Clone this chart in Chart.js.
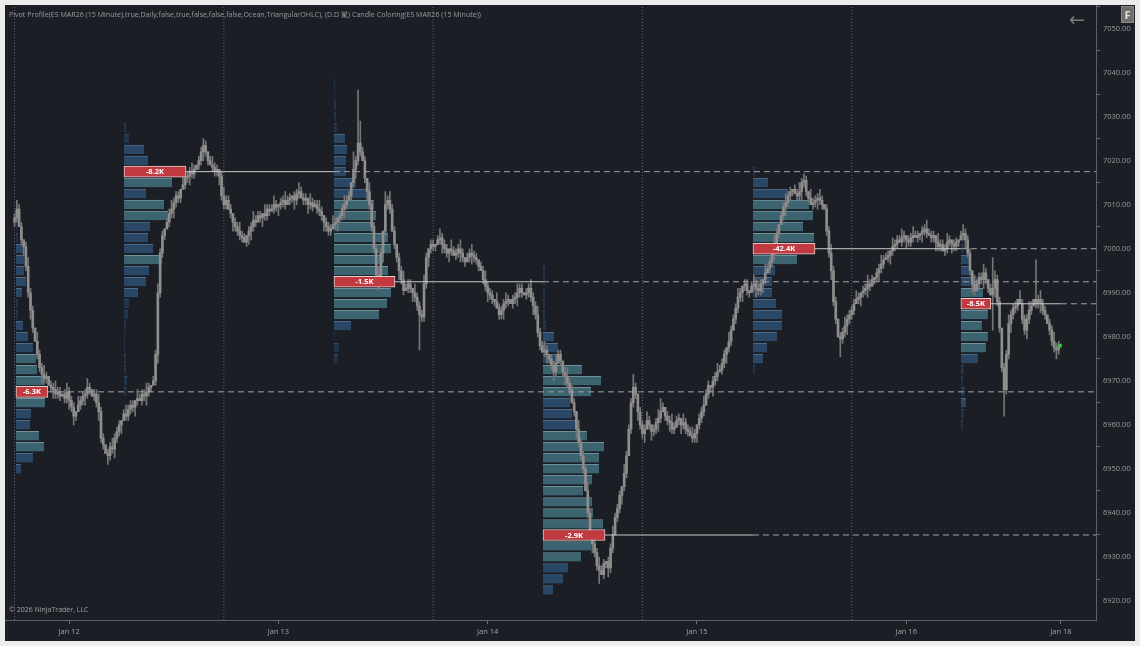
<!DOCTYPE html>
<html><head><meta charset="utf-8">
<script src="https://cdn.jsdelivr.net/npm/chart.js@4.4.1/dist/chart.umd.min.js"></script>
<style>
html,body{margin:0;padding:0;background:#ececec;width:1140px;height:646px;overflow:hidden;font-family:'Open Sans','DejaVu Sans',sans-serif;}
#panel{position:absolute;left:5px;top:5px;width:1130px;height:636px;background:#1b1e25;overflow:hidden;}
#cv{position:absolute;left:0;top:0;}
#hdr{position:absolute;left:4px;top:4px;font-size:7.1px;color:#9a9a9a;white-space:nowrap;}
#copy{position:absolute;left:4px;top:600px;font-size:7px;color:#a0a0a0;white-space:nowrap;}
#back{position:absolute;left:1064px;top:3px;font-size:19px;color:#7c7c7c;line-height:22px;}
#fbox{position:absolute;left:1116px;top:1px;width:11px;height:15px;background:#6d6d6d;border:1px solid #8a8a8a;color:#e0e0e0;font-size:11px;font-weight:bold;text-align:center;line-height:15px;}
</style></head>
<body>
<div id="panel">
<canvas id="cv" width="1130" height="636"></canvas>
<div id="hdr">Pivot Profile(ES MAR26 (15 Minute),true,Daily,false,true,false,false,false,Ocean,TriangularOHLC), (D.D 鬣) Candle Coloring(ES MAR26 (15 Minute))</div>
<div id="copy">© 2026 NinjaTrader, LLC</div>
<div id="back">←</div>
<div id="fbox">F</div>
</div>
<script>
// ---------------- data ----------------
const sessionStarts = [0, 92, 184, 276, 368];
const dateTickBars = [24, 116, 208, 300, 392, 460];
const dateTickLabels = ['Jan 12', 'Jan 13', 'Jan 14', 'Jan 15', 'Jan 16', 'Jan 18'];
const priceTicks = [6920, 6930, 6940, 6950, 6960, 6970, 6980, 6990, 7000, 7010, 7020, 7030, 7040, 7050];

const firstOpen = 7006;
const closesJan12 = [
7007,7009,7005,7002,7000.5,6996,6990,6986,6982,6979,
6976,6973,6971.5,6970.5,6971,6969,6968.5,6968,6967,6967.5,
6966.5,6967,6966,6967.5,6965.5,6964,6962,6963,6964.5,6965.5,
6966.5,6967,6968.5,6968,6966.5,6967,6965,6963,6957,6955.5,
6953.5,6953,6955,6954.5,6957,6958.5,6960,6961,6962.5,6962,
6963.5,6964.5,6964,6965.5,6966,6965.5,6967,6966.5,6967.5,6968.5,
6969,6970,6976,6990,6999,7003,7004.5,7006,7008,7009,
7010.5,7012,7011.5,7013.5,7014.5,7016,7016.5,7017.5,7017,7018,
7019,7020,7022,7023.5,7022,7020,7019,7018.5,7017.5,7018,
7016.5,7012];
const closesJan13 = [
7010,7011,7009,7008,7006,7005,7004,7003,7002.5,7001.5,
7003,7004,7005,7006.5,7006,7007.5,7007,7008,7007.5,7009,
7008.5,7009,7010,7009.5,7010,7010.5,7011,7010,7011,7011.5,
7012,7011,7012.5,7013,7011.5,7011,7011.5,7010,7010.5,7009.5,
7010,7009,7008.5,7007.5,7006,7005,7004,7004.5,7005.5,7006,
7007,7007.5,7009,7010,7011,7012,7015,7018,7020,7024,
7022,7020,7016,7013,7010,7005,7000,6994,6992.5,6999,
7004,7010,7011,7009,7004,7001,6998,6995,6993,6990.5,
6991,6992,6991,6990,6989,6987,6985,6984.5,6992,6998,
7000,7001];
const closesJan14 = [
7000.5,7001,7002,7002.5,7001,7000,6999,7000,6999.5,6998.5,
6999,7000,6999,6998,6997,6998,6999,6998.5,6998,6997.5,
6996,6995,6993,6991.5,6990,6989.5,6988.5,6988,6986.5,6985,
6986,6987.5,6988,6988.5,6987.5,6988.5,6989,6990,6991,6990,
6989.5,6990,6991,6989,6987,6985,6981,6978,6976.5,6977,
6976,6975,6973.5,6972,6974,6976,6974.5,6972,6971,6969.5,
6968,6965,6963,6959,6956,6953,6950,6945,6940,6936,
6933,6931,6928,6927,6926,6928.5,6929,6927.5,6932,6935,
6939,6941,6944,6946,6949,6953,6959,6965,6968.5,6967,
6963,6960];
const closesJan15 = [
6958,6959,6961,6960,6958.5,6959,6960.5,6961.5,6963,6964,
6962,6961,6960.5,6959,6959.5,6961,6961.5,6960,6960.5,6959,
6958.5,6957.5,6957,6958,6960,6961.5,6963,6964.5,6967,6969,
6968.5,6970,6971,6972,6972.5,6974,6976,6977.5,6979,6981.5,
6984,6986.5,6989,6990,6991.5,6992,6990.5,6990,6991.5,6992,
6991,6990.5,6992,6993,6994.5,6995.5,6997,6999.5,7001,7003.5,
7005.5,7007.5,7009.5,7010.5,7012,7013,7013.5,7012.5,7012,7013,
7015,7015.5,7013,7011.5,7010,7010.5,7011,7011.5,7011,7010,
7009,7004,6999,6995,6988,6984,6980,6979.5,6981,6982.5,
6984,6985];
const closesJan16 = [
6986,6987.5,6988.5,6989,6990,6990.5,6991,6992,6991.5,6993,
6993.5,6994.5,6995.5,6996.5,6997.5,6998,6998.5,6999.5,7000.5,7001,
7002,7001.5,7002.5,7003,7002,7001.5,7002.5,7003,7002.5,7003,
7003.5,7004,7004.5,7003.5,7003,7002.5,7003,7001.5,7000.5,7001,
6999.5,7000,7001.5,7002,7001,7000.5,7001.5,7002,7003,7003.5,
7002,6999,6995,6992,6990.5,6992,6993.5,6993,6994.5,6993,
6991,6989.5,6991,6993,6988,6982,6973,6968,6976,6983,
6985,6986.5,6987,6988.5,6987.5,6984,6981.5,6984,6986,6987,
6988.5,6987.5,6988.5,6987.5,6986,6985,6983,6981.5,6979,6977.5,
6977,6978];

const wickUp = [
1,2,1,1,0,1,2,1,1,0,2,1,1,2,1,0,1,1,2,1,1,0,1,2,1,1,1,0,2,1,1,1,2,1,0,1,1,2,1,1,0,1,1,2,1,1,
1,0,1,2,1,1,1,0,2,1,1,1,2,1,0,1,1,2,1,1,0,1,1,2,1,1,1,0,2,1,1,1,2,1,0,1,1,1.5,1,0,1,2,1,1,0,1,
2,1,1,1,0,1,1,2,1,1,0,1,1,2,1,1,1,0,2,1,1,1,2,1,0,1,1,2,1,1,0,1,1,2,1,1,1,0,2,1,1,1,2,1,0,1,
1,1,2,1,0,1,1,2,1,1,0,4,1,12,5,1,1,0,2,1,1,1,2,1,0,3,1,2,1,1,0,1,1,2,1,1,1,0,2,1,1,1,2,1,0,1,
1,0,1,2,1,1,1,0,2,1,1,1,2,1,0,1,1,2,1,1,0,1,1,2,1,1,1,0,2,1,1,1,2,1,0,1,1,2,1,1,0,1,1,2,1,1,
2,1,1,2,1,0,1,1,2,1,1,0,1,2,1,1,1,0,2,1,1,1,2,1,0,1,1,2,1,1,0,1,1,2,1,1,1,0,2,1,1,1,3,1,0,1,
1,1,2,1,0,1,1,2,3,1,0,1,1,2,1,1,1,0,2,1,1,1,2,1,0,1,1,2,1,1,0,1,1,2,1,1,1,0,2,1,1,1,2,1,0,1,
1,0,1,2,1,1,1,0,2,1,1,1,2,1,0,1,1,2,1,1,0,1,1,2,1,1.5,1,0,2,1,1,1,2,1,0,1,1,2,1,1,0,1,1,2,1,1,
1,1,2,1,0,1,1,2,1,1,0,1,1,2,1,1,1,0,2,1,1,1,2,1,0,1,1,2,1,1,0,1,1,2,1,1,1,0,2,1,1,1,2,1,0,1,
1,0,1,2,1,1,1,0,2,1,1,1,2,1,0,1,7,2,1,1,0,1,1,2,1,1,1,0,2,1,1,1,2,1,0,9,1,2,1,1,0,1,1,2,1,1];
const wickDn = [
1,1,0,1,2,1,1,2,1,0,1,1,2,1,1,0,1,2,1,1,1,0,1,1,2,1,2,1,0,1,1,2,1,1,0,1,1,2,1,1,0,2,1,1,2,1,
1,2,0,1,1,1,1,2,1,0,1,1,2,1,1,0,1,2,1,1,1,0,1,1,2,1,1,1,0,1,1,2,1,1,0,1,1,2,1,1,0,1,1,1,2,1,
1,1,0,1,2,1,1,1,1,0,1,2,2,1,1,0,1,2,1,1,1,0,1,1,2,1,1,1,0,1,1,2,1,1,0,1,1,2,1,1,0,1,1,1,2,1,
1,1,0,1,2,1,1,2,1,0,1,1,2,1,1,0,1,2,1,1,1,0,2,1,2,1,1,1,0,1,1,2,1,1,0,1,1,2,1,1,8,1,1,1,2,1,
1,1,0,1,2,1,1,2,1,0,1,1,2,1,1,0,1,2,1,1,1,0,1,1,2,1,1,1,0,1,1,2,1,1,0,1,1,2,1,1,0,1,1,1,2,1,
1,1,0,1,2,1,1,2,1,0,1,1,2,1,1,0,1,2,1,1,1,0,1,1,2,1,1,3,0,1,1,2,1,1,0,1,1,2,1,1,0,1,1,1,2,1,
1,2,0,1,2,1,1,2,1,0,1,1,2,1,1,0,1,2,1,1,1,0,1,1,2,1,1,1,0,1,1,2,1,1,0,1,1,2,1,1,0,1,1,1,2,1,
1,1,0,1,2,1,1,2,1,0,1,1,2,1,1,0,1,2,1,1,1,0,1,1,2,1,1,1,0,1,1,2,1,1,0,1,1,2,1,1,0,4,1,1,2,1,
1,1,0,1,2,1,1,2,1,0,1,1,2,1,1,0,1,2,1,1,1,0,1,1,2,1,1,1,0,1,1,2,1,1,0,1,1,2,1,1,0,1,1,1,2,1,
1,1,0,1,2,1,1,2,1,0,1,1,2,1,1,0,8,2,1,1,1,6,1,1,2,1,1,1,0,1,1,2,1,1,0,1,1,2,1,1,0,1,1,1,2,1];

// volume profiles (relative volume per 2.5-pt price bin, listed from the top bin down)
const binSize = 2.5;
const profileStarts = [0.6, 48.1, 140.4, 232.3, 324.6, 416.0];
const profileEnds = [0.6, 140.4, 232.3, 324.6, 416.0, 460];
const profileTops = [7007.5, 7027.5, 7037.5, 6995, 7017.5, 7002.5];
const prof0Vol = [1,1,2,8,8,8,10,6,2,2,7,12,17,20,21,29,32,29,15,14,23,28,17,5];
const prof1Vol = [2,5,20,24,62,48,22,40,44,26,24,29,38,25,22,14,5,4,2,1,1,2,2,3,2];
const prof2Vol = [1,1,2,2,3,11,13,12,12,22,36,40,42,40,54,57,49,54,61,57,53,45,17,1,5,4];
const prof3Vol = [2,2,2,2,2,3,11,15,15,39,58,48,27,29,35,44,61,56,56,49,40,49,50,60,62,48,38,25,20,10];
const prof4Vol = [2,15,35,56,60,50,61,62,44,22,19,19,23,29,29,24,14,10,2];
const prof5Vol = [3,3,8,8,16,22,30,27,21,27,25,17,3,2,4,5,3,2];
const pocDeltaK = [-6.3, -8.2, -1.5, -2.9, -42.4, -8.5];

// ---------------- build ----------------
const X_MIN = -4.2, X_MAX = 475.4, Y_MIN = 6915.7, Y_MAX = 7055.45;
const volUnitBars = 0.44;
const FONT = "'Open Sans','DejaVu Sans',sans-serif";

const closes = [].concat(closesJan12, closesJan13, closesJan14, closesJan15, closesJan16);
const opens = closes.map((c, i) => i === 0 ? firstOpen : closes[i - 1]);
const profiles = [prof0Vol, prof1Vol, prof2Vol, prof3Vol, prof4Vol, prof5Vol];

function makeConfig() {
  const datasets = [];
  sessionStarts.forEach(s => datasets.push({
    type: 'line', data: [{x: s, y: Y_MIN}, {x: s, y: Y_MAX}],
    borderColor: '#5f636b', borderWidth: 1, borderDash: [1, 2], pointRadius: 0, pointBorderWidth: 0, order: 30
  }));

  const pocData = [];
  profiles.forEach((vols, k) => {
    const maxV = Math.max(...vols);
    const pocIdx = vols.indexOf(maxV);
    const start = profileStarts[k];
    const data = [];
    vols.forEach((v, j) => {
      const p = profileTops[k] - j * binSize;
      const item = {y: p, x: [start, start + v * volUnitBars], r: v / maxV};
      if (j === pocIdx) {
        const d = pocDeltaK[k];
        pocData.push({y: p, x: item.x, label: (d < 0 ? '-' : '') + Math.abs(d).toFixed(1) + 'K'});
        const xEnd = item.x[1];
        const solidEnd = Math.max(xEnd, profileEnds[k]);
        if (solidEnd > xEnd) datasets.push({
          type: 'line', data: [{x: xEnd, y: p}, {x: solidEnd, y: p}],
          borderColor: '#c9c9c9', borderWidth: 1, pointRadius: 0, pointBorderWidth: 0, order: 4
        });
        datasets.push({
          type: 'line', data: [{x: solidEnd, y: p}, {x: X_MAX, y: p}],
          borderColor: '#a3a3a3', borderWidth: 1, borderDash: [6, 4], pointRadius: 0, pointBorderWidth: 0, order: 4
        });
      } else data.push(item);
    });
    datasets.push({
      type: 'bar', indexAxis: 'y', data, grouped: false, barThickness: 9,
      backgroundColor: ctx => { const r = ctx.raw ? ctx.raw.r : 0; return r >= 0.6 ? '#3c6470' : (r >= 0.15 ? '#2a4865' : '#213349'); },
      borderColor: ctx => { const r = ctx.raw ? ctx.raw.r : 0; return r >= 0.6 ? '#6f929b' : (r >= 0.15 ? '#4d6c88' : '#34495f'); },
      borderWidth: {top: 1, left: 0, right: 0, bottom: 0}, borderSkipped: false, order: 20
    });
  });

  const wickData = closes.map((c, i) => ({x: i, y: [Math.min(opens[i], c) - wickDn[i], Math.max(opens[i], c) + wickUp[i]]}));
  const bodyData = closes.map((c, i) => ({x: i, y: [opens[i], c]}));
  datasets.push({type: 'bar', data: wickData, grouped: false, barThickness: 1, backgroundColor: '#767676', borderWidth: 0, order: 10});
  datasets.push({type: 'bar', data: bodyData, grouped: false, barThickness: 2, backgroundColor: '#8e8e8e', borderWidth: 0, order: 9});
  datasets.push({
    type: 'line', data: [{x: closes.length - 0.4, y: closes[closes.length - 1]}], showLine: false,
    pointStyle: 'rect', pointRadius: 2.5, pointBackgroundColor: '#37c43a', pointBorderWidth: 0, order: 2
  });
  const pocIndex = datasets.length;
  datasets.push({
    type: 'bar', indexAxis: 'y', data: pocData, grouped: false, barThickness: 11,
    backgroundColor: '#c13a40', borderColor: '#e4cccc', borderWidth: 1, borderSkipped: false, order: 1
  });

  const pocText = {
    id: 'pocText',
    afterDatasetsDraw(chart) {
      const meta = chart.getDatasetMeta(pocIndex);
      const ctx = chart.ctx;
      ctx.save();
      ctx.font = 'bold 7.5px ' + FONT;
      ctx.fillStyle = '#ffffff';
      ctx.textAlign = 'center';
      ctx.textBaseline = 'middle';
      meta.data.forEach((el, i) => {
        ctx.fillText(pocData[i].label, (el.x + el.base) / 2, el.y + 0.5);
      });
      ctx.restore();
    }
  };

  return {
    type: 'bar',
    data: {datasets},
    options: {
      responsive: false, animation: false, events: [],
      layout: {padding: 0, autoPadding: false},
      plugins: {legend: {display: false}, tooltip: {enabled: false}},
      scales: {
        x: {
          type: 'linear', min: X_MIN, max: X_MAX, offset: false,
          grid: {drawOnChartArea: false, drawTicks: true, tickLength: 4, color: '#6a6d73', offset: false},
          border: {display: true, color: '#5d6066'},
          ticks: {color: '#a2a2a2', font: {size: 7.5, family: FONT}, maxRotation: 0, autoSkip: false, padding: 3,
            callback: (v, i) => dateTickLabels[i]},
          afterBuildTicks: s => { s.ticks = dateTickBars.map(v => ({value: v})); },
          afterFit: s => { s.height = 21; }
        },
        y: {
          type: 'linear', position: 'right', min: Y_MIN, max: Y_MAX, offset: false,
          grid: {drawOnChartArea: false, drawTicks: true, tickLength: 4, color: '#6a6d73'},
          border: {display: true, color: '#5d6066'},
          ticks: {color: '#9a9a9a', font: {size: 7.5, family: FONT}, padding: 3, callback: v => Number(v).toFixed(2)},
          afterBuildTicks: s => { s.ticks = priceTicks.map(v => ({value: v})); },
          afterFit: s => { s.width = 39; }
        }
      }
    },
    plugins: [pocText]
  };
}

const canvas = document.getElementById('cv');
let chart = new Chart(canvas, makeConfig());
// keep the plot area flush with the panel's top-left corner
const dl = chart.chartArea.left, dt = chart.chartArea.top;
if (dl > 0.2 || dt > 0.2) {
  chart.destroy();
  const w = Math.round(1130 + dl), h = Math.round(636 + dt);
  canvas.width = w; canvas.height = h;
  canvas.style.width = w + 'px'; canvas.style.height = h + 'px';
  canvas.style.left = (1130 - w) + 'px'; canvas.style.top = (636 - h) + 'px';
  chart = new Chart(canvas, makeConfig());
}
</script>
</body></html>
